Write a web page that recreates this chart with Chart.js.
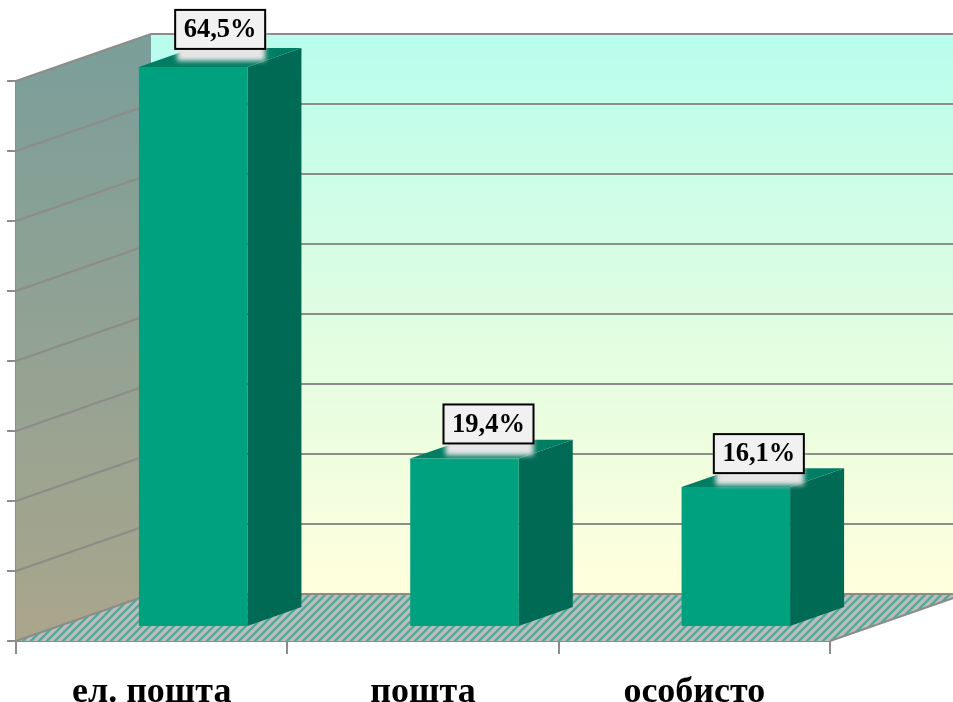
<!DOCTYPE html>
<html>
<head>
<meta charset="utf-8">
<title>chart</title>
<script src="https://cdn.jsdelivr.net/npm/chart.js@4"></script>
<style>
  html, body { margin: 0; padding: 0; background: #fff; overflow: hidden; }
  canvas { display: block; }
</style>
</head>
<body>
<canvas id="myChart" width="953" height="702"></canvas>
<script>
const categories = ['ел. пошта', 'пошта', 'особисто'];
const values = [64.5, 19.4, 16.1];
const valueLabels = ['64,5%', '19,4%', '16,1%'];
const yMax = 64.5;
const yStep = 8.0625;

// size of the fake 3d box, the chart area is the front plane
const depthX = 135;
const depthY = 47;
const lineColor = '#8c8c88';

// diagonal hatch for the floor
function floorPattern(ctx) {
  const tile = document.createElement('canvas');
  tile.width = 8;
  tile.height = 8;
  const t = tile.getContext('2d');
  t.fillStyle = '#bdbdc1';
  t.fillRect(0, 0, 8, 8);
  t.strokeStyle = '#55a893';
  t.lineWidth = 2.3;
  t.beginPath();
  t.moveTo(-2, 10); t.lineTo(10, -2);
  t.moveTo(-4, 4); t.lineTo(4, -4);
  t.moveTo(4, 12); t.lineTo(12, 4);
  t.stroke();
  return ctx.createPattern(tile, 'repeat');
}

function poly(ctx, points, fill) {
  ctx.beginPath();
  points.forEach((p, i) => i ? ctx.lineTo(p[0], p[1]) : ctx.moveTo(p[0], p[1]));
  ctx.closePath();
  if (fill) {
    ctx.fillStyle = fill;
    ctx.fill();
  }
}

function line(ctx, x1, y1, x2, y2) {
  ctx.beginPath();
  ctx.moveTo(x1, y1);
  ctx.lineTo(x2, y2);
  ctx.stroke();
}

const box3d = {
  id: 'box3d',
  // walls, floor and grid lines
  beforeDatasetsDraw(chart) {
    const ctx = chart.ctx;
    const a = chart.chartArea;
    const yScale = chart.scales.y;
    ctx.save();

    const back = ctx.createLinearGradient(0, a.top - depthY, 0, a.bottom - depthY);
    back.addColorStop(0, '#b8fdee');
    back.addColorStop(0.5, '#dffde2');
    back.addColorStop(1, '#ffffdc');
    ctx.fillStyle = back;
    ctx.fillRect(a.left + depthX, a.top - depthY, a.width, a.height);

    const wall = ctx.createLinearGradient(0, a.top - depthY, 0, a.bottom);
    wall.addColorStop(0, '#7a9e9a');
    wall.addColorStop(1, '#aaa68c');
    poly(ctx, [[a.left, a.top], [a.left + depthX, a.top - depthY],
      [a.left + depthX, a.bottom - depthY], [a.left, a.bottom]], wall);

    poly(ctx, [[a.left, a.bottom], [a.right, a.bottom],
      [a.right + depthX, a.bottom - depthY], [a.left + depthX, a.bottom - depthY]], floorPattern(ctx));

    ctx.strokeStyle = lineColor;
    ctx.lineWidth = 2;
    yScale.ticks.forEach(tick => {
      const y = yScale.getPixelForValue(tick.value);
      line(ctx, a.left, y, a.left + depthX, y - depthY);
      line(ctx, a.left + depthX, y - depthY, a.right + depthX, y - depthY);
    });
    line(ctx, a.right, a.bottom, a.right + depthX, a.bottom - depthY);
    ctx.restore();
  },
  // side and top of the bars, then shift the bar itself into the box
  beforeDatasetDraw(chart, args) {
    const ctx = chart.ctx;
    const shiftX = depthX * 0.3 + 1;
    const shiftY = depthY * 0.3;
    const barX = depthX * 0.4;
    const barY = depthY * 0.4;
    ctx.save();
    ctx.translate(shiftX, -shiftY);
    args.meta.data.forEach(bar => {
      const left = bar.x - bar.width / 2;
      const right = bar.x + bar.width / 2;
      poly(ctx, [[right, bar.y], [right + barX, bar.y - barY],
        [right + barX, bar.base - barY], [right, bar.base]], '#006a55');
      poly(ctx, [[left, bar.y], [left + barX, bar.y - barY],
        [right + barX, bar.y - barY], [right, bar.y]], '#007d63');
    });
  },
  afterDatasetDraw(chart) {
    chart.ctx.restore();
  },
  // value boxes sit over the top of each bar
  afterDatasetsDraw(chart) {
    const ctx = chart.ctx;
    const meta = chart.getDatasetMeta(0);
    const boxW = 90;
    const boxH = 39;
    const nudgeX = [0, -3, -4];
    const gapY = [18, 15, 14];
    ctx.save();
    meta.data.forEach((bar, i) => {
      const cx = bar.x + depthX * 0.5 + 1 + nudgeX[i];
      const bottom = bar.y - depthY * 0.3 - gapY[i];
      const x = cx - boxW / 2;
      const y = bottom - boxH;
      ctx.save();
      ctx.filter = 'blur(2.5px)';
      ctx.fillStyle = '#e6e6e6';
      ctx.fillRect(x + 2, y + 6, boxW - 2, boxH + 6);
      ctx.restore();
      ctx.fillStyle = '#f1f1f1';
      ctx.fillRect(x, y, boxW, boxH);
      ctx.strokeStyle = '#000';
      ctx.lineWidth = 2;
      ctx.strokeRect(x, y, boxW, boxH);
      ctx.fillStyle = '#000';
      ctx.font = 'bold 26.5px "Liberation Serif"';
      ctx.textAlign = 'center';
      ctx.textBaseline = 'middle';
      ctx.fillText(valueLabels[i], cx, y + boxH / 2 + 1);
    });
    ctx.restore();
  }
};

const myChart = new Chart(document.getElementById('myChart'), {
  type: 'bar',
  data: {
    labels: categories,
    datasets: [{
      data: values,
      backgroundColor: '#00a17f',
      borderWidth: 0,
      barPercentage: 0.4,
      categoryPercentage: 1,
      clip: false
    }]
  },
  plugins: [box3d],
  options: {
    responsive: false,
    animation: false,
    layout: { padding: { left: 16, top: 81, right: 123, bottom: 0 } },
    plugins: {
      legend: { display: false },
      title: { display: false },
      tooltip: { enabled: false }
    },
    scales: {
      x: {
        afterFit(scale) { scale.height = 61; },
        border: { color: lineColor, width: 2 },
        grid: { color: lineColor, lineWidth: 2, drawOnChartArea: false, tickLength: 13 },
        ticks: {
          color: '#000',
          padding: 17,
          maxRotation: 0,
          autoSkip: false,
          font: { family: 'Liberation Serif', size: 36, weight: 'bold' }
        }
      },
      y: {
        min: 0,
        max: yMax,
        afterFit(scale) { scale.width = 0; },
        afterBuildTicks(scale) {
          const ticks = [];
          for (let v = 0; v <= yMax + 0.001; v += yStep) ticks.push({ value: v });
          scale.ticks = ticks;
        },
        border: { color: lineColor, width: 2 },
        grid: { color: lineColor, lineWidth: 2, drawOnChartArea: false, tickLength: 9 },
        ticks: { display: false }
      }
    }
  }
});
</script>
</body>
</html>
